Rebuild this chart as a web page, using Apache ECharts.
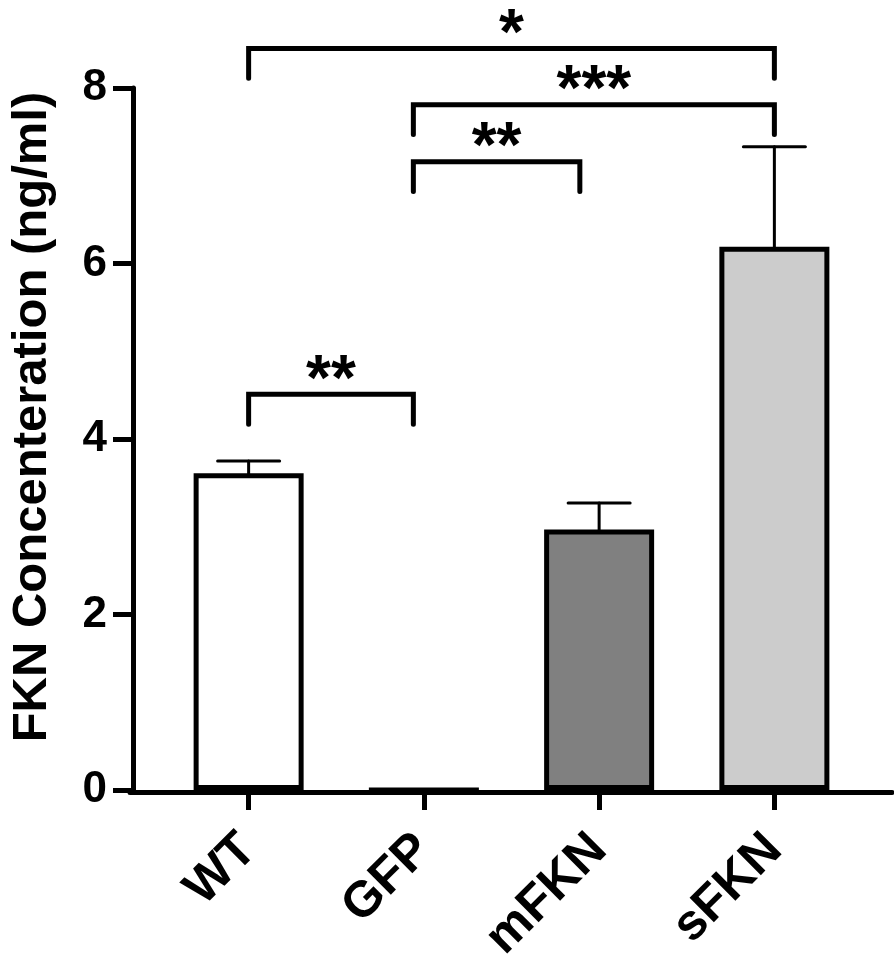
<!DOCTYPE html>
<html>
<head>
<meta charset="utf-8">
<script src="https://cdn.jsdelivr.net/npm/echarts@6/dist/echarts.min.js"></script>
<style>
  html, body { margin: 0; padding: 0; background: #fff; }
  #chart { width: 894px; height: 966px; }
</style>
</head>
<body>
<div id="chart"></div>
<script>
'use strict';

///// data /////

const categories = ['WT', 'GFP', 'mFKN', 'sFKN'];
// mean FKN concentration (ng/ml)
const means = [3.61, 0, 2.97, 6.19];
// mean + error
const upper = [3.75, 0, 3.27, 7.33];
const barColors = ['#ffffff', '#ffffff', '#808080', '#cccccc'];

// significance brackets (x in category units, y in ng/ml)
const sigFrom = [0, 0.94, 0.94, 0];
const sigTo = [3, 3, 1.89, 0.94];
const sigTop = [8.45, 7.81, 7.16, 4.51];
const sigLabels = ['*', '***', '**', '**'];
const legDrop = 0.34;

const FONT = '"Liberation Sans", Arial, sans-serif';

///// render helpers /////

const renderError = (params, api) => {
  const i = params.dataIndex;
  if (upper[i] <= means[i]) return null;
  const p0 = api.coord([i, means[i]]);
  const p1 = api.coord([i, upper[i]]);
  const half = 31;
  const style = { stroke: '#000', lineWidth: 3, lineCap: 'round' };
  return {
    type: 'group',
    children: [
      { type: 'line', shape: { x1: p0[0], y1: p0[1], x2: p1[0], y2: p1[1] }, style: style },
      { type: 'line', shape: { x1: p1[0] - half, y1: p1[1], x2: p1[0] + half, y2: p1[1] }, style: style }
    ]
  };
};

const renderBracket = (params, api) => {
  const i = params.dataIndex;
  const origin = api.coord([0, sigTop[i]]);
  const band = api.size([1, 0])[0];
  const x1 = origin[0] + sigFrom[i] * band;
  const x2 = origin[0] + sigTo[i] * band;
  const yTop = origin[1];
  const yBot = api.coord([0, sigTop[i] - legDrop])[1];
  return {
    type: 'group',
    children: [
      {
        type: 'polyline',
        shape: { points: [[x1, yBot], [x1, yTop], [x2, yTop], [x2, yBot]] },
        style: { stroke: '#000', lineWidth: 5, fill: null, lineCap: 'round', lineJoin: 'miter' }
      },
      {
        type: 'text',
        x: (x1 + x2) / 2,
        y: yTop + 20,
        style: {
          text: sigLabels[i],
          font: 'bold 64px ' + FONT,
          fill: '#000',
          align: 'center',
          verticalAlign: 'bottom'
        }
      }
    ]
  };
};

///// chart /////

const chart = echarts.init(document.getElementById('chart'), null, { renderer: 'canvas' });

const axisLineStyle = { color: '#000', width: 5 };

chart.setOption({
  animation: false,
  backgroundColor: '#fff',
  grid: [
    { left: 158, width: 704, top: 88, height: 704 },
    { left: 130, right: 2, top: 88, height: 704 }
  ],
  xAxis: [
    {
      type: 'category',
      gridIndex: 0,
      data: categories,
      axisLine: { show: false },
      axisTick: { show: true, alignWithLabel: true, length: 20, lineStyle: axisLineStyle },
      axisLabel: {
        rotate: 45,
        margin: 52,
        color: '#000',
        fontSize: 50,
        fontWeight: 'bold',
        fontFamily: FONT
      },
      splitLine: { show: false }
    },
    {
      type: 'value',
      gridIndex: 1,
      min: 0,
      max: 1,
      axisLine: { show: true, lineStyle: axisLineStyle },
      axisTick: { show: false },
      axisLabel: { show: false },
      splitLine: { show: false }
    }
  ],
  yAxis: [
    {
      type: 'value',
      gridIndex: 0,
      min: 0,
      max: 8,
      interval: 2,
      offset: 28,
      axisLine: { show: true, lineStyle: axisLineStyle },
      axisTick: { show: true, length: 20, lineStyle: axisLineStyle },
      axisLabel: {
        margin: 26,
        color: '#000',
        fontSize: 44,
        fontWeight: 'bold',
        fontFamily: FONT
      },
      splitLine: { show: false },
      name: 'FKN Concenteration (ng/ml)',
      nameLocation: 'middle',
      nameGap: 76,
      nameTextStyle: {
        color: '#000',
        fontSize: 49,
        fontWeight: 'bold',
        fontFamily: FONT,
        padding: [0, 0, 0, 44]
      }
    },
    {
      type: 'value',
      gridIndex: 1,
      show: false,
      min: 0,
      max: 8
    }
  ],
  series: [
    {
      type: 'bar',
      xAxisIndex: 0,
      yAxisIndex: 0,
      barWidth: 110,
      data: means.map((v, i) => ({
        value: v,
        itemStyle: { color: barColors[i], borderColor: '#000', borderWidth: 5 }
      }))
    },
    {
      type: 'custom',
      xAxisIndex: 0,
      yAxisIndex: 0,
      renderItem: renderError,
      data: means.map((v, i) => [i, upper[i]]),
      z: 3
    },
    {
      type: 'custom',
      xAxisIndex: 0,
      yAxisIndex: 0,
      clip: false,
      renderItem: renderBracket,
      data: sigTop.map((t) => [0, t]),
      z: 4
    }
  ]
});
</script>
</body>
</html>
